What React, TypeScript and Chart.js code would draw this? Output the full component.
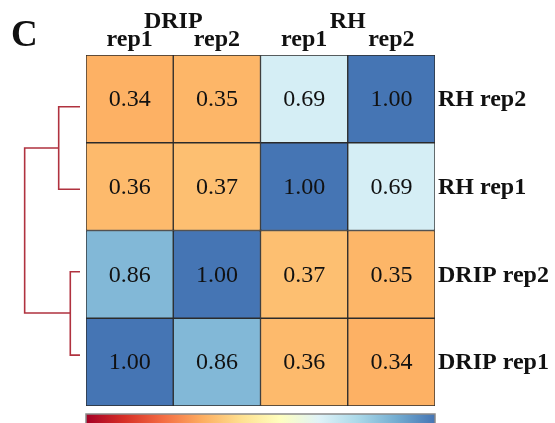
import React, { useEffect, useRef } from "react";
import { Chart, registerables } from "chart.js";

Chart.register(...registerables);

// columns (left to right) and rows (bottom to top)
const colLabels = ["DRIP rep1", "DRIP rep2", "RH rep1", "RH rep2"];
const rowLabels = ["DRIP rep1", "DRIP rep2", "RH rep1", "RH rep2"];
const groupLabels = ["DRIP", "RH"];

const rowDripRep1 = [1.0, 0.86, 0.36, 0.34];
const rowDripRep2 = [0.86, 1.0, 0.37, 0.35];
const rowRhRep1 = [0.36, 0.37, 1.0, 0.69];
const rowRhRep2 = [0.34, 0.35, 0.69, 1.0];
const rows = [rowDripRep1, rowDripRep2, rowRhRep1, rowRhRep2];

// dendrogram (x in column units, negative = left of heatmap; y in row units)
const dendroRH = [
  { x: -0.069, y: 3.41 },
  { x: -0.313, y: 3.41 },
  { x: -0.313, y: 2.47 },
  { x: -0.069, y: 2.47 },
];
const dendroDRIP = [
  { x: -0.069, y: 1.53 },
  { x: -0.18, y: 1.53 },
  { x: -0.18, y: 0.58 },
  { x: -0.069, y: 0.58 },
];
const dendroRoot = [
  { x: -0.313, y: 2.94 },
  { x: -0.703, y: 2.94 },
  { x: -0.703, y: 1.06 },
  { x: -0.18, y: 1.06 },
];

// RdYlBu palette (red -> blue) over [0, 1]
const palette = [
  "#a50026", "#d73027", "#f46d43", "#fdae61", "#fee090",
  "#ffffbf", "#e0f3f8", "#abd9e9", "#74add1", "#4575b4",
];

function hexToRgb(h: string) {
  const n = parseInt(h.slice(1), 16);
  return [(n >> 16) & 255, (n >> 8) & 255, n & 255];
}
function colorFor(v: number) {
  const t = Math.max(0, Math.min(1, v)) * (palette.length - 1);
  const i = Math.min(palette.length - 2, Math.floor(t));
  const f = t - i;
  const a = hexToRgb(palette[i]);
  const b = hexToRgb(palette[i + 1]);
  const c = a.map((av, k) => Math.round(av + (b[k] - av) * f));
  return `rgb(${c[0]},${c[1]},${c[2]})`;
}

const SERIF = "'Liberation Serif', 'DejaVu Serif', serif";
const DENDRO_COLOR = "#b0323f";

const extrasPlugin = {
  id: "extras",
  afterDatasetsDraw(chart: any) {
    const ctx = chart.ctx;
    const ca = chart.chartArea;
    const xs = chart.scales.x;
    const ys = chart.scales.y;
    ctx.save();
    // cell values
    ctx.fillStyle = "#111";
    ctx.font = `24px ${SERIF}`;
    ctx.textAlign = "center";
    ctx.textBaseline = "middle";
    chart.data.datasets.forEach((ds: any, di: number) => {
      if (ds.type !== "bar") return;
      const meta = chart.getDatasetMeta(di);
      meta.data.forEach((el: any, i: number) => {
        const v = ds.values[i];
        ctx.fillText(v.toFixed(2), el.x, (el.y + el.base) / 2 + 1);
      });
    });
    // column labels (top)
    ctx.font = `bold 24px ${SERIF}`;
    ctx.textBaseline = "alphabetic";
    colLabels.forEach((c, i) => {
      ctx.fillText(c.split(" ")[1], xs.getPixelForValue(i), 46);
    });
    groupLabels.forEach((g, gi) => {
      const cx = (xs.getPixelForValue(gi * 2) + xs.getPixelForValue(gi * 2 + 1)) / 2;
      ctx.fillText(g, cx, 28);
    });
    // row labels (right)
    ctx.textAlign = "left";
    ctx.textBaseline = "middle";
    rowLabels.forEach((r, i) => {
      ctx.fillText(r, ca.right + 3, ys.getPixelForValue(i + 0.5) + 1);
    });
    // panel letter
    ctx.font = `bold 37px ${SERIF}`;
    ctx.textBaseline = "alphabetic";
    ctx.fillText("C", 11, 46);
    // colour bar
    const top = ca.bottom + 8;
    const grad = ctx.createLinearGradient(ca.left, 0, ca.right, 0);
    palette.forEach((c, i) => grad.addColorStop(i / (palette.length - 1), c));
    ctx.fillStyle = grad;
    ctx.fillRect(ca.left, top, ca.right - ca.left, 20);
    ctx.strokeStyle = "#8a8a8a";
    ctx.lineWidth = 1.5;
    ctx.strokeRect(ca.left, top, ca.right - ca.left, 20);
    ctx.restore();
  },
};

export default function App() {
  const ref = useRef<HTMLCanvasElement | null>(null);
  useEffect(() => {
    if (!ref.current) return;
    const barSets = rows.map((vals, r) => ({
      type: "bar" as const,
      label: rowLabels[r],
      data: colLabels.map(() => [r, r + 1]),
      values: vals,
      backgroundColor: vals.map(colorFor),
      borderColor: "#2b2b2b",
      borderWidth: 1,
      borderSkipped: false,
      grouped: false,
      barPercentage: 1,
      categoryPercentage: 1,
      xAxisID: "x",
      yAxisID: "y",
      order: 2,
    }));
    const lineSets = [dendroRH, dendroDRIP, dendroRoot].map((pts) => ({
      type: "line" as const,
      data: pts,
      borderColor: DENDRO_COLOR,
      borderWidth: 1.6,
      pointRadius: 0,
      tension: 0,
      fill: false,
      clip: false as any,
      xAxisID: "xd",
      yAxisID: "y",
      order: 1,
    }));
    const chart = new Chart(ref.current, {
      type: "bar",
      data: { labels: colLabels, datasets: [...barSets, ...lineSets] as any },
      options: {
        animation: false,
        responsive: false,
        layout: { padding: { left: 86, right: 120, top: 55, bottom: 17 } },
        plugins: { legend: { display: false }, tooltip: { enabled: false } },
        scales: {
          x: {
            type: "category",
            display: false,
            offset: true,
          },
          xd: {
            type: "linear",
            display: false,
            offset: false,
            min: 0,
            max: 4,
          },
          y: {
            type: "linear",
            display: false,
            min: 0,
            max: 4,
          },
        },
      } as any,
      plugins: [extrasPlugin],
    });
    return () => chart.destroy();
  }, []);
  return (
    <div style={{ position: "absolute", left: 0, top: 0, width: 555, height: 423, background: "#fff" }}>
      <canvas ref={ref} width={555} height={423} style={{ display: "block" }} />
    </div>
  );
}
